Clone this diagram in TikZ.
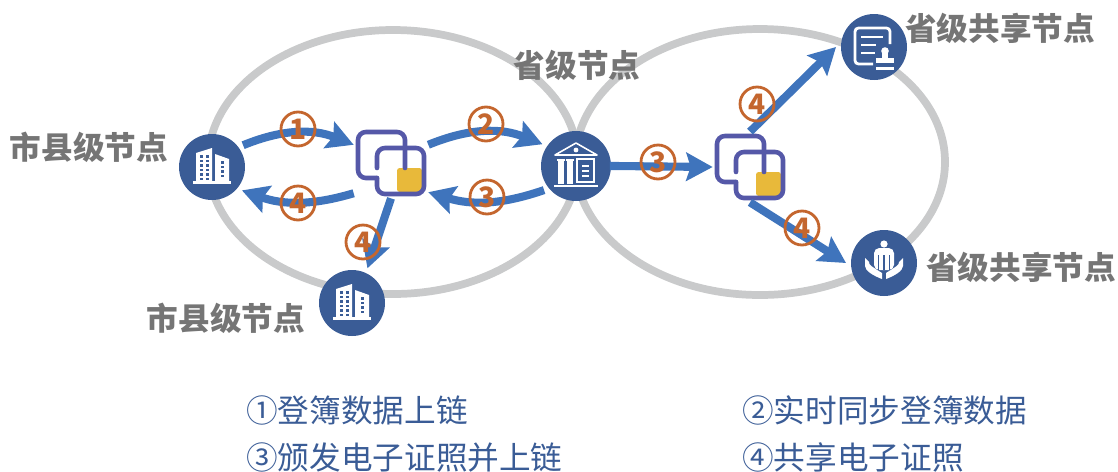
\documentclass[tikz,border=0pt]{standalone}
\usepackage{fontspec}
\setmainfont{Noto Sans CJK SC}
\usetikzlibrary{arrows.meta}

\definecolor{ringgray}{HTML}{C9CACB}
\definecolor{nodeblue}{HTML}{3A5C96}
\definecolor{flowblue}{HTML}{3F74BC}
\definecolor{stepred}{HTML}{C4662E}
\definecolor{textgray}{HTML}{757575}
\definecolor{chainblue}{HTML}{5558A8}
\definecolor{chainyellow}{HTML}{E8B93A}

\tikzset{
    ring/.style={draw=ringgray, line width=4.4pt},
    site/.style={circle, fill=nodeblue, minimum size=1.32cm, inner sep=0pt, outer sep=0.1cm},
    chainbox/.style={rectangle, minimum width=1.48cm, minimum height=1.4cm, inner sep=0pt},
    flow/.style={draw=flowblue, line width=4.6pt, -{Stealth[length=15pt, width=16pt, inset=2.5pt]}},
    stepmark/.style={circle, draw=stepred, line width=1.6pt, minimum size=0.68cm, inner sep=0pt, text=stepred, font=\fontsize{16}{16}\selectfont\bfseries},
    sitelabel/.style={text=textgray, inner sep=0pt, font=\fontsize{18}{20}\selectfont\bfseries},
    legend/.style={text=nodeblue, inner sep=0pt, anchor=west, font=\fontsize{18}{20}\selectfont},
    chain/.pic={
        \fill[chainyellow, rounded corners=1.5pt] (6,5) rectangle (31,29);
        \draw[chainblue, line width=2.6pt, rounded corners=4.5pt, line cap=round] (-14,15) -- (-33,15) -- (-33,-31) -- (14,-31) -- (14,5);
        \draw[chainblue, line width=2.6pt, rounded corners=4.5pt, line cap=round] (-14,5) -- (-14,-15) -- (33,-15) -- (33,31) -- (-14,31) -- (-14,15);
    },
    building/.pic={
        \fill[white] (-16,-14) -- (0,-19) -- (0,14) -- (-16,14) -- cycle;
        \fill[white] (3,-13) -- (17,-8) -- (17,14) -- (3,14) -- cycle;
        \fill[white] (-19,14) rectangle (19,17);
        \foreach \y in {-12,-7.5,-3,1.5,6,10.5} {
            \fill[nodeblue] (-12,\y) rectangle (-9,\y+2.5);
            \fill[nodeblue] (-6,\y) rectangle (-3,\y+2.5);
        }
        \foreach \y in {-6,-1.5,3,7.5} {
            \fill[nodeblue] (8.5,\y) rectangle (11.5,\y+2.5);
        }
    },
    temple/.pic={
        \draw[white, line width=0.9pt, line join=round] (0,-23) -- (-21,-11) -- (21,-11) -- cycle;
        \fill[white] (0,-16) circle (2.4);
        \fill[white] (-19,-7) rectangle (-11,-5);
        \fill[white] (-18,-5) rectangle (-12,18);
        \fill[white] (-10,-7) rectangle (-2,-5);
        \fill[white] (-9,-5) rectangle (-3,18);
        \draw[white, line width=0.9pt] (1,-7) rectangle (18,16);
        \foreach \y in {0,5,10} {
            \draw[white, line width=0.9pt] (6,\y) -- (13,\y);
        }
        \fill[white] (-22,19) rectangle (22,21);
    },
    certificate/.pic={
        \draw[white, line width=1.6pt, rounded corners=2pt] (-1,17) -- (-19,17) -- (-19,-19) -- (16,-19) -- (16,-3);
        \draw[white, line width=1.5pt] (-13,-10) -- (9,-10);
        \draw[white, line width=1.5pt] (-13,-2) -- (2,-2);
        \draw[white, line width=1.5pt] (-13,6) -- (1,6);
        \fill[white] (11,4) circle (3.8);
        \fill[white] (8,6) rectangle (14,11);
        \fill[white] (2,11) rectangle (20,16);
        \fill[white] (2,20) rectangle (20,22.5);
    },
    carehands/.pic={
        \fill[white] (0,-19) circle (3.6);
        \fill[white, rounded corners=3pt] (-10,-15) -- (10,-15) -- (10,7) -- (-10,7) -- cycle;
        \fill[nodeblue] (-0.6,-8) rectangle (0.6,7);
        \fill[nodeblue] (-6,-8) rectangle (-5,7);
        \fill[nodeblue] (5,-8) rectangle (6,7);
        \fill[white] (-19,-5) -- (-15,-1) .. controls (-15,2) and (-13,3) .. (-2,10) -- (-2,16) .. controls (-10,13) and (-19,8) .. (-19,3) -- cycle;
        \fill[white] (19,-5) -- (15,-1) .. controls (15,2) and (13,3) .. (2,10) -- (2,16) .. controls (10,13) and (19,8) .. (19,3) -- cycle;
    }
}

\begin{document}
\begin{tikzpicture}[x=0.02cm, y=-0.02cm]
    \useasboundingbox (0,0) rectangle (1118,471);

    % Rings
    \draw[ring] (393,162) ellipse [x radius=185, y radius=132];
    \draw[ring] (760,162) ellipse [x radius=185, y radius=133];

    % Sites
    \node[site] (cityA) at (212,167) {};
    \node[site] (cityB) at (352,303) {};
    \node[site, minimum size=1.4cm] (province) at (576,166) {};
    \node[site] (shareA) at (874,47) {};
    \node[site] (shareB) at (884,263) {};
    \pic at (cityA) {building};
    \pic at (cityB) {building};
    \pic at (province) {temple};
    \pic at (shareA) {certificate};
    \pic at (shareB) {carehands};

    % Chain icons
    \node[chainbox] (chainA) at (391,163) {};
    \node[chainbox] (chainB) at (750,167) {};
    \pic at (chainA) {chain};
    \pic at (chainB) {chain};

    % Flows
    \draw[flow] (cityA.35) to[bend left=22] (chainA.154);
    \draw[flow] (chainA.219) to[bend left=18] (cityA.-38);
    \draw[flow] (chainA.south) -- (cityB.66);
    \draw[flow] (chainA.26) to[bend left=22] (province.147);
    \draw[flow] (province.217) to[bend left=18] (chainA.-38);
    \draw[flow, shorten <=-3.5pt] (province.east) -- (chainB.west);
    \draw[flow] (chainB.north) -- (shareA.west);
    \draw[flow] (chainB.south) -- (shareB.west);

    % Step marks
    \node[stepmark] (markA) at (298,129) {1};
    \node[stepmark] (markB) at (298,203) {4};
    \node[stepmark] (markC) at (363,242) {4};
    \node[stepmark] (markD) at (486,124) {2};
    \node[stepmark] (markE) at (487,197) {3};
    \node[stepmark] (markF) at (658,162) {3};
    \node[stepmark] (markG) at (757,104) {4};
    \node[stepmark] (markH) at (802,228) {4};

    % Labels
    \node[sitelabel] (cityAlabel) at (89,147) {市县级节点};
    \node[sitelabel] (cityBlabel) at (226,318) {市县级节点};
    \node[sitelabel] (provincelabel) at (577,65) {省级节点};
    \node[sitelabel] (shareAlabel) at (1000,28) {省级共享节点};
    \node[sitelabel] (shareBlabel) at (1021,267) {省级共享节点};

    % Legend
    \node[legend] (legendA) at (246,410) {①登簿数据上链};
    \node[legend] (legendB) at (742,410) {②实时同步登簿数据};
    \node[legend] (legendC) at (246,457) {③颁发电子证照并上链};
    \node[legend] (legendD) at (742,457) {④共享电子证照};
\end{tikzpicture}
\end{document}
